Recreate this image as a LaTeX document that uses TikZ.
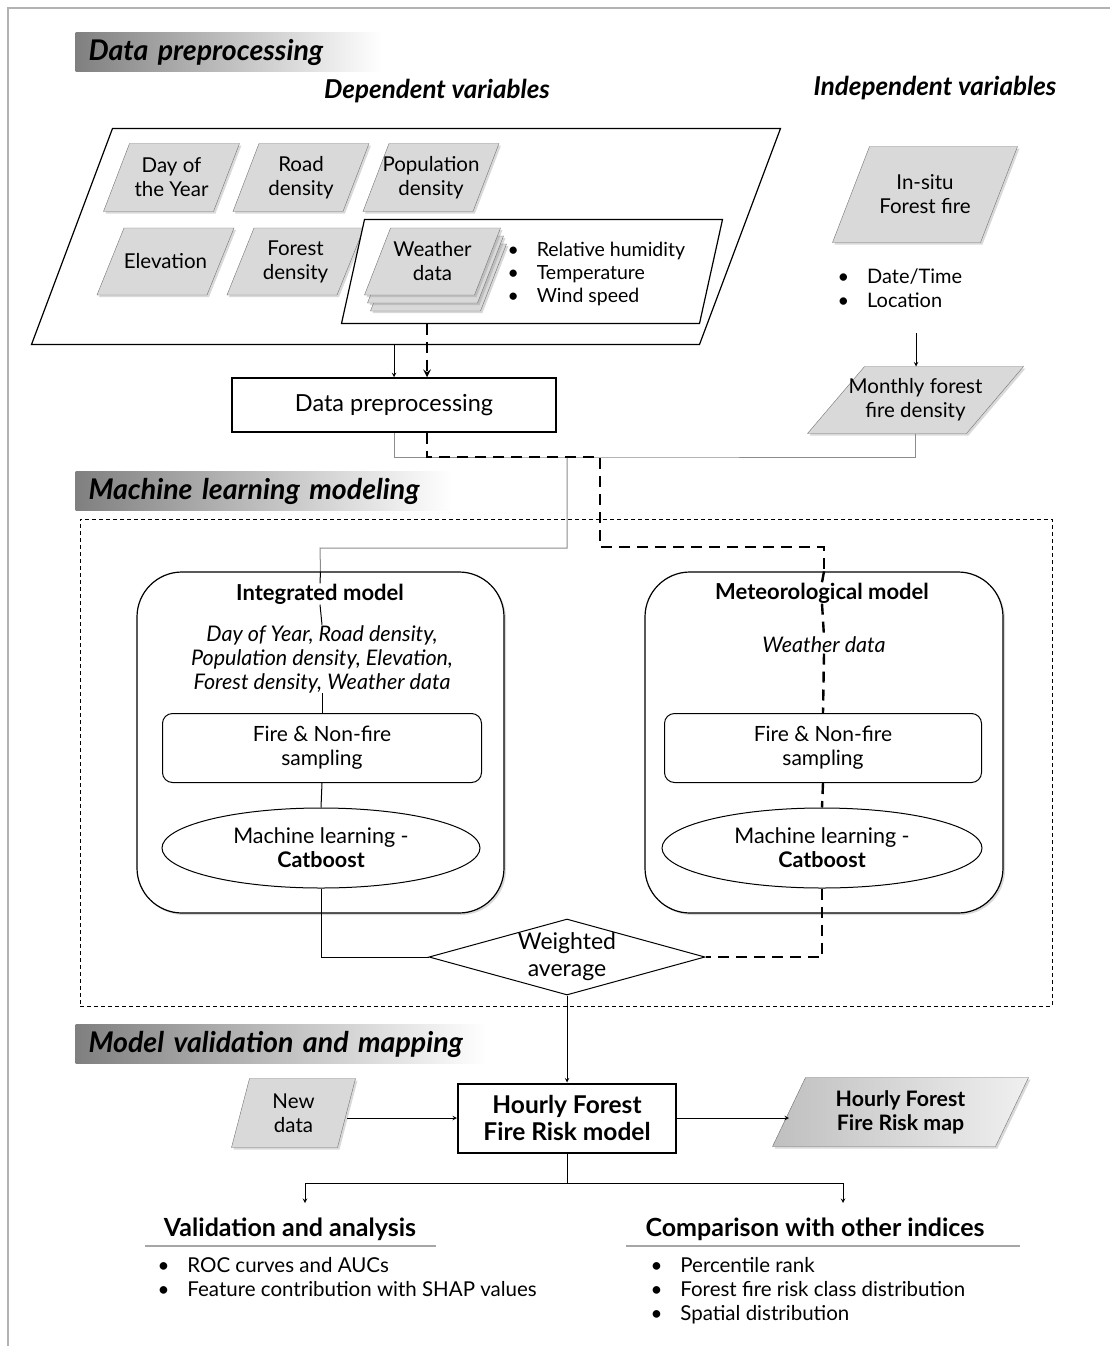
\documentclass[tikz,border=0pt]{standalone}
\usepackage{fontspec}
\setmainfont{Lato}
\usetikzlibrary{shapes.geometric,shadows,backgrounds,positioning}

\tikzset{
  txt/.style={font=\fontsize{20.5}{24}\selectfont, align=center, inner sep=0pt},
  % text part of a slanted box; the box itself is drawn on the background layer
  inbox/.style={txt, minimum width=109, minimum height=66},
  pgbox/.style={draw=black!55, fill=black!15,
    drop shadow={shadow xshift=2pt, shadow yshift=-2pt, opacity=0.3}},
  pgframe/.style={draw, line width=1.2pt},
  wframe/.style={pgframe, fill=white},
  mapbox/.style={pgbox, left color=black!25, right color=black!6},
  band/.style={anchor=west, minimum height=39, inner xsep=13pt, inner ysep=0pt,
    left color=black!50, right color=white, text width=#1, align=left,
    font=\fontsize{28.5}{32}\selectfont\bfseries\itshape},
  model/.style={draw, line width=1.2pt, rounded corners=45pt, fill=white,
    drop shadow={shadow xshift=2pt, shadow yshift=-2pt, opacity=0.3}},
  stepbox/.style={txt, draw, rounded corners=10pt, fill=white, minimum width=319, minimum height=69,
    font=\fontsize{21}{24}\selectfont},
  mlbox/.style={txt, draw, ellipse, fill=white, minimum width=318, minimum height=80,
    font=\fontsize{21.5}{24}\selectfont},
  mtitle/.style={txt, font=\fontsize{22}{26}\selectfont\bfseries, fill=white},
  mvars/.style={txt, font=\fontsize{21.5}{24}\selectfont\itshape},
  grayline/.style={black!45, line width=1pt},
  thickdash/.style={line width=2.4pt, dash pattern=on 11pt off 7pt},
  subhead/.style={font=\fontsize{25}{30}\selectfont\bfseries},
  vartitle/.style={font=\fontsize{26}{30}\selectfont\bfseries\itshape},
}

\begin{document}
\begin{tikzpicture}[x=1pt, y=-1pt, >=stealth, line width=1pt]
  \useasboundingbox (0,0) rectangle (1110,1346);
  % page frame
  \draw [black!30, line width=1.5pt] (8,1346) -- (8,8) -- (1110,8);

  % --- data preprocessing ---
  \node [band=280] (hdprep) at (75,52) {Data preprocessing};
  \node [vartitle] (deptitle) at (437,91) {Dependent variables};
  \node [vartitle] (indtitle) at (935,88) {Independent variables};

  \node [minimum width=667, minimum height=215] (depbox) at (406,236.5) {};
  \node [inbox, minimum height=67] (dayyear) at (171.5,177.5) {Day of\\the Year};
  \node [inbox, minimum height=67] (road) at (301,177.5) {Road\\density};
  \node [inbox, minimum height=67] (popul) at (431,177.5) {Population\\density};
  \node [inbox] (elev) at (165.5,261.5) {Elevation};
  \node [inbox] (forest) at (295.5,261.5) {Forest\\density};
  \node [minimum width=357, minimum height=103] (wbox) at (532,271.5) {};
  \node [inbox] (wdata3) at (438.5,277.5) {};
  \node [inbox] (wdata2) at (435.5,269.5) {};
  \node [inbox] (wdata) at (432.5,261.5) {Weather\\data};
  \node [txt, font=\fontsize{19.5}{23}\selectfont, align=left, anchor=west] (wlist) at (507,274)
    {\textbullet\hspace{18pt}Relative humidity\\\textbullet\hspace{18pt}Temperature\\\textbullet\hspace{18pt}Wind speed};

  \node [inbox, minimum width=147, minimum height=95] (insitu) at (925,194.5) {In-situ\\Forest fire};
  \node [txt, font=\fontsize{20}{24}\selectfont, align=left, anchor=west] (firelist) at (837,288)
    {\textbullet\hspace{18pt}Date/Time\\\textbullet\hspace{18pt}Location};
  \node [inbox, minimum width=158] (monthly) at (915.5,400) {Monthly forest\\fire density};
  \coordinate (fl) at (916,333);
  \draw [->] (fl) -- (monthly.north -| fl);

  \node [txt, draw, line width=1.5pt, minimum width=324, minimum height=54,
         font=\fontsize{23.5}{28}\selectfont] (prep) at (394,405) {Data preprocessing};
  \coordinate (wx) at (427,0);
  \draw [->] (depbox.south -| prep.north) -- (prep.north);
  \draw [thickdash, ->] (wbox.south -| wx) -- (prep.north -| wx);

  % --- machine learning modeling ---
  \node [band=350] (hdml) at (75,491) {Machine learning modeling};
  \node [draw, line width=0.8pt, dash pattern=on 4pt off 3pt, minimum width=972, minimum height=487] (mlframe) at (566,762.5) {};

  \node [model, minimum width=367, minimum height=341] (intmodel) at (320.5,742.5) {};
  \node [mtitle] (inttitle) at (320,594) {Integrated model};
  \node [mvars] (intvars) at (322,659)
    {Day of Year, Road density,\\Population density, Elevation,\\Forest density, Weather data};
  \node [stepbox] (intsamp) at (322,748) {Fire \& Non-fire\\sampling};
  \node [mlbox] (intml) at (321,848) {Machine learning -\\\textbf{Catboost}};

  \node [model, minimum width=358, minimum height=341] (metmodel) at (824,742.5) {};
  \node [mtitle] (mettitle) at (822,593) {Meteorological model};
  \node [mvars] (metvars) at (824,645) {Weather data};
  \node [stepbox, minimum width=317] (metsamp) at (823,748) {Fire \& Non-fire\\sampling};
  \node [mlbox, minimum width=320] (metml) at (822,848) {Machine learning -\\\textbf{Catboost}};

  \node [txt, draw, diamond, aspect=3.6, fill=white, minimum width=276, minimum height=76,
         font=\fontsize{23}{27}\selectfont] (wavg) at (567,957) {Weighted\\average};

  % solid route: integrated model
  \coordinate (j1) at (567,457);
  \coordinate (j2) at (320,548);
  \draw [grayline] (prep.south) |- (j1) -| (monthly.south);
  \draw [grayline] (j1) |- (j2) -- (intmodel.north);
  \draw (intmodel.north) -- (inttitle.north);
  \draw (inttitle.south) -- (intvars.north);
  \draw (intvars.south) -- (intsamp.north);
  \draw (intsamp.south) -- (intml.north);
  \draw (intml.south) |- (wavg.west);

  % dashed route: meteorological model
  \coordinate (d1) at (600,457);
  \coordinate (d2) at (600,547);
  \draw [thickdash] (prep.south -| wx) |- (d1) -- (d2) -| (metmodel.north);
  \draw [thickdash] (metmodel.north) -- (mettitle.north);
  \draw [thickdash] (mettitle.south) -- (metvars.north);
  \draw [thickdash] (metvars.south) -- (metsamp.north);
  \draw [thickdash] (metsamp.south) -- (metml.north);
  \draw [thickdash] (metml.south) |- (wavg.east);

  % --- model validation and mapping ---
  \node [band=385] (hdval) at (75,1044) {Model validation and mapping};
  \node [txt, draw, line width=2pt, minimum width=218, minimum height=69,
         font=\fontsize{24.5}{27}\selectfont\bfseries] (riskmodel) at (567,1118) {Hourly Forest\\Fire Risk model};
  \node [inbox, minimum width=105, minimum height=68] (newdata) at (293.5,1113) {New\\data};
  \node [inbox, minimum width=222, minimum height=68,
         font=\fontsize{21.3}{24}\selectfont\bfseries] (riskmap) at (900.5,1112) {Hourly Forest\\Fire Risk map};
  \draw [->] (wavg.south) -- (riskmodel.north);
  \draw [->] (newdata.east |- riskmodel.west) -- (riskmodel.west);
  \draw [->] (riskmodel.east) -- (riskmodel.east -| riskmap.west);

  \coordinate (split) at (567,1183);
  \coordinate (va) at (305,1203);
  \coordinate (ca) at (843,1203);
  \draw (riskmodel.south) -- (split);
  \draw [->] (split) -| (va);
  \draw [->] (split) -| (ca);

  \node [subhead] (valhead) at (290,1229) {Validation and analysis};
  \node [subhead] (comphead) at (815,1229) {Comparison with other indices};
  \draw [black!35, line width=1.5pt] (145,1246) -- (436,1246);
  \draw [black!35, line width=1.5pt] (626,1246) -- (1020,1246);
  \node [txt, align=left, anchor=north west] (vallist) at (157,1257)
    {\textbullet\hspace{18pt}ROC curves and AUCs\\\textbullet\hspace{18pt}Feature contribution with SHAP values};
  \node [txt, align=left, anchor=north west] (complist) at (650,1257)
    {\textbullet\hspace{18pt}Percentile rank\\\textbullet\hspace{18pt}Forest fire risk class distribution\\\textbullet\hspace{18pt}Spatial distribution};

  % slanted boxes behind the texts (node / slant / style)
  \begin{scope}[on background layer]
    \foreach \n/\s/\st in {depbox/81/pgframe, dayyear/26/pgbox, road/26/pgbox, popul/26/pgbox,
        elev/27/pgbox, forest/27/pgbox, wbox/23/wframe, wdata3/26/pgbox,
        wdata2/26/pgbox, wdata/26/pgbox, insitu/37/pgbox, monthly/57/pgbox, newdata/18/pgbox,
        riskmap/33/mapbox}
      \draw [\st] ([xshift=\s/2]\n.north west) -- ([xshift=\s/2]\n.north east)
        -- ([xshift=-\s/2]\n.south east) -- ([xshift=-\s/2]\n.south west) -- cycle;
  \end{scope}
\end{tikzpicture}
\end{document}
